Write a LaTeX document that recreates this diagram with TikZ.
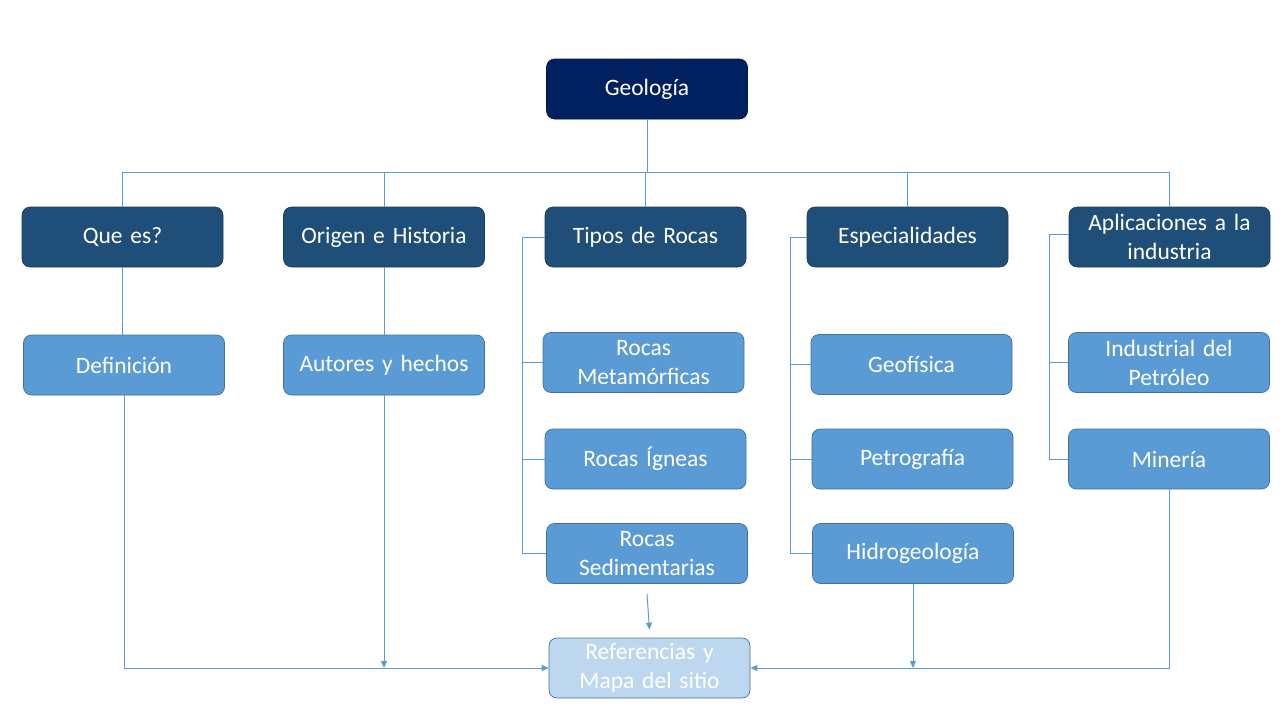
\documentclass[tikz,border=0pt]{standalone}
\usepackage{fontspec}
\setmainfont{Carlito}
\usetikzlibrary{arrows.meta}
\definecolor{navy}{HTML}{002060}
\definecolor{dark}{HTML}{1F4E79}
\definecolor{mid}{HTML}{5B9BD5}
\definecolor{pale}{HTML}{BDD7EE}
\definecolor{edge}{HTML}{41719C}
\tikzset{
  box/.style={rectangle, rounded corners=8pt, minimum width=201pt, minimum height=60pt,
    inner sep=0pt, text=white, align=center, text width=196pt,
    font=\fontsize{23.5}{29}\selectfont},
  topbox/.style={box, fill=navy, draw=navy!80!black, line width=0.6pt},
  catbox/.style={box, fill=dark, draw=dark!80!black, line width=0.6pt},
  subbox/.style={box, fill=mid, draw=edge, line width=0.7pt},
  refbox/.style={box, fill=pale, draw=edge, line width=0.7pt},
  conn/.style={draw=mid, line width=1pt},
  arr/.style={conn, -{Triangle[width=6pt,length=7pt]}}
}
\begin{document}
\begin{tikzpicture}[x=1pt,y=-1pt]
\useasboundingbox (0,0) rectangle (1280,720);

\node[topbox] (geo) at (647,89) {Geología};

\node[catbox] (q) at (122.5,237) {Que es?};
\node[catbox] (o) at (384,237) {Origen e Historia};
\node[catbox] (t) at (645.5,237) {Tipos de Rocas};
\node[catbox] (e) at (907.5,237) {Especialidades};
\node[catbox] (a) at (1169.5,237) {Aplicaciones a la\\industria};

\node[subbox] (def) at (124,365) {Definición};
\node[subbox] (aut) at (384,365) {Autores y hechos};
\node[subbox] (met) at (643.5,362.5) {Rocas\\Metamórficas};
\node[subbox] (ign) at (645.5,459) {Rocas Ígneas};
\node[subbox] (sed) at (647,553.5) {Rocas\\Sedimentarias};
\node[subbox] (gf) at (911.5,364.5) {Geofísica};
\node[subbox] (pet) at (912.5,459) {Petrografía};
\node[subbox] (hid) at (913,553.5) {Hidrogeología};
\node[subbox] (ind) at (1169,362.5) {Industrial del\\Petróleo};
\node[subbox] (min) at (1169,459) {Minería};

\node[refbox] (ref) at (649.5,668) {Referencias y\\Mapa del sitio};

% bus
\coordinate (bus) at (648,172);
\draw[conn] (geo.south) -- (geo.south |- bus);
\draw[conn] (q.north |- bus) -- (a.north |- bus);
\foreach \n in {q,o,t,e,a} \draw[conn] (\n.north |- bus) -- (\n.north);

% first column pairs
\draw[conn] (q.south) -- (q.south |- def.north);
\draw[conn] (aut.north |- o.south) -- (aut.north);

% Tipos de Rocas branch
\coordinate (tl) at ([xshift=-22pt]t.west);
\draw[conn] (t.west) -- (tl) |- (sed.west);
\draw[conn] (tl |- met.west) -- (met.west);
\draw[conn] (tl |- ign.west) -- (ign.west);

% Especialidades branch
\coordinate (el) at ([xshift=-16pt]e.west);
\draw[conn] (e.west) -- (el) |- (hid.west);
\draw[conn] (el |- gf.west) -- (gf.west);
\draw[conn] (el |- pet.west) -- (pet.west);

% Aplicaciones branch
\coordinate (al) at ([xshift=-19pt,yshift=3pt]a.west);
\draw[conn] ([yshift=3pt]a.west) -- (al) |- (min.west);
\draw[conn] (al |- ind.west) -- (ind.west);

% to references
\draw[arr] (def.south) |- (ref.west);
\draw[arr] (aut.south) -- (aut.south |- ref.west);
\draw[arr] ([yshift=-10pt]sed.south) -- ([yshift=8pt]ref.north);
\draw[arr] (hid.south) -- (hid.south |- ref.east);
\draw[arr] (min.south) |- (ref.east);
\end{tikzpicture}
\end{document}
